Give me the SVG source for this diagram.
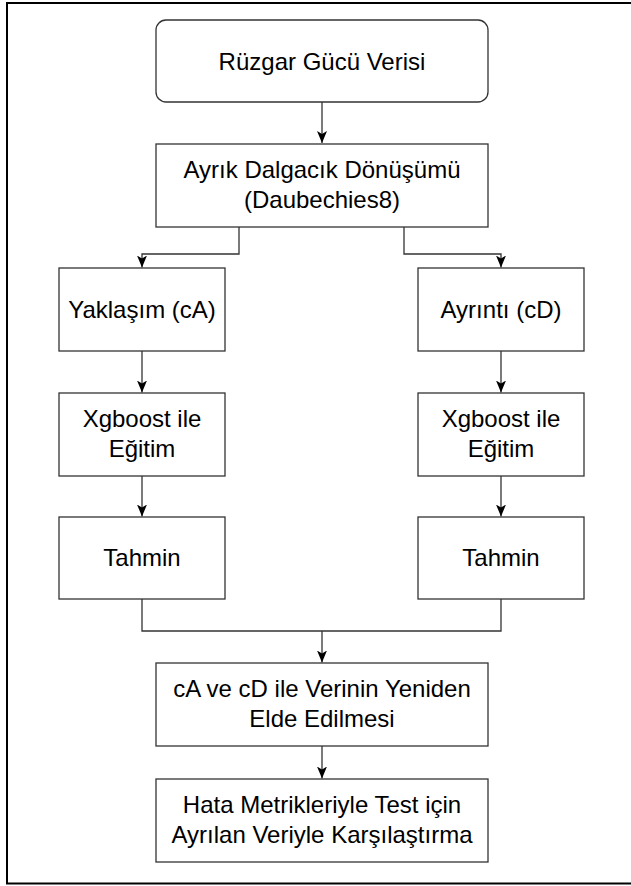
<svg xmlns="http://www.w3.org/2000/svg" width="631" height="886" viewBox="0 0 631 886">
<defs>
<marker id="ah" markerWidth="12" markerHeight="10" refX="12" refY="5" orient="auto" markerUnits="userSpaceOnUse" viewBox="0 0 12 10">
<path d="M0,0 L12,5 L0,10 L3,5 Z" fill="#000"/>
</marker>
</defs>
<style>
.box{fill:#fff;stroke:#333;stroke-width:1.3}
.t{font-family:"Liberation Sans",Arial,sans-serif;font-size:24px;fill:#000;text-anchor:middle}
.c{fill:none;stroke:#333;stroke-width:1.3}
</style>
<rect x="0" y="0" width="631" height="886" fill="#fff"/>
<rect x="7" y="3" width="630" height="880.5" fill="none" stroke="#000" stroke-width="2"/>
<g id="connectors">
<path class="c" d="M322,102 V143" marker-end="url(#ah)"/>
<path class="c" d="M239,227 V254 H142 V267.5" marker-end="url(#ah)"/>
<path class="c" d="M404,227 V254 H501 V267.5" marker-end="url(#ah)"/>
<path class="c" d="M142,351 V392.5" marker-end="url(#ah)"/>
<path class="c" d="M501,351 V392.5" marker-end="url(#ah)"/>
<path class="c" d="M142,476 V516.5" marker-end="url(#ah)"/>
<path class="c" d="M501,476 V516.5" marker-end="url(#ah)"/>
<path class="c" d="M142,599 V631 H501 V599"/>
<path class="c" d="M322,631 V662.5" marker-end="url(#ah)"/>
<path class="c" d="M322,746 V778.5" marker-end="url(#ah)"/>
</g>
<g id="n1"><rect class="box" x="156" y="20" width="332" height="82" rx="10"/><text class="t" x="322" y="70">Rüzgar Gücü Verisi</text></g>
<g id="n2"><rect class="box" x="156" y="144" width="332" height="83"/><text class="t" x="322" y="178">Ayrık Dalgacık Dönüşümü</text><text class="t" x="322" y="208">(Daubechies8)</text></g>
<g id="n3"><rect class="box" x="59" y="268" width="166" height="83"/><text class="t" x="142" y="318">Yaklaşım (cA)</text></g>
<g id="n4"><rect class="box" x="418" y="268" width="166" height="83"/><text class="t" x="501" y="318">Ayrıntı (cD)</text></g>
<g id="n5"><rect class="box" x="59" y="393" width="166" height="83"/><text class="t" x="142" y="427">Xgboost ile</text><text class="t" x="142" y="457">Eğitim</text></g>
<g id="n6"><rect class="box" x="418" y="393" width="166" height="83"/><text class="t" x="501" y="427">Xgboost ile</text><text class="t" x="501" y="457">Eğitim</text></g>
<g id="n7"><rect class="box" x="59" y="517" width="166" height="82"/><text class="t" x="142" y="566">Tahmin</text></g>
<g id="n8"><rect class="box" x="418" y="517" width="166" height="82"/><text class="t" x="501" y="566">Tahmin</text></g>
<g id="n9"><rect class="box" x="156" y="663" width="332" height="83"/><text class="t" x="322" y="697">cA ve cD ile Verinin Yeniden</text><text class="t" x="322" y="727">Elde Edilmesi</text></g>
<g id="n10"><rect class="box" x="156" y="779" width="332" height="83"/><text class="t" x="322" y="813">Hata Metrikleriyle Test için</text><text class="t" x="322" y="843">Ayrılan Veriyle Karşılaştırma</text></g>
</svg>
